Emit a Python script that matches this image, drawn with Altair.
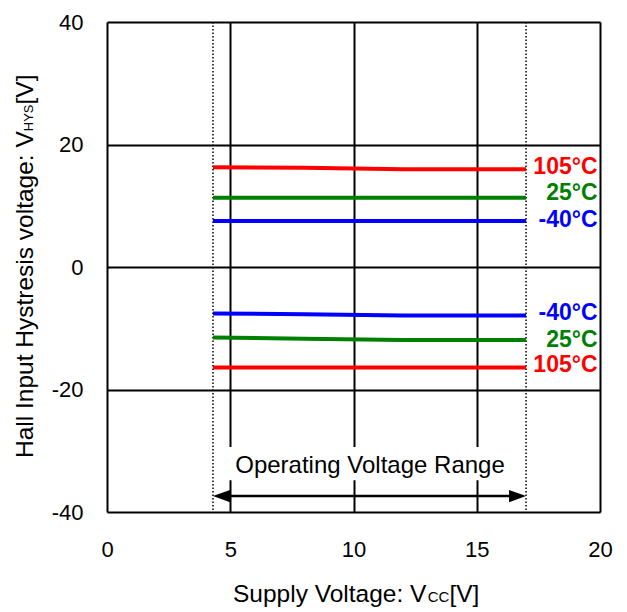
import altair as alt
import pandas as pd

# ---- data ----
vcc = [4.3, 8, 12, 17]
red_up = [16.3, 16.2, 15.95, 15.95]
green_up = [11.3, 11.3, 11.3, 11.3]
blue_up = [7.5, 7.5, 7.5, 7.5]
blue_lo = [-7.6, -7.7, -7.9, -7.9]
green_lo = [-11.5, -11.7, -11.9, -11.9]
red_lo = [-16.4, -16.4, -16.4, -16.4]

series_names = ["105up", "25up", "m40up", "m40lo", "25lo", "105lo"]
series_vals = [red_up, green_up, blue_up, blue_lo, green_lo, red_lo]
series_colors = ["#FF0000", "#008000", "#0000FF", "#0000FF", "#008000", "#FF0000"]

label_text = ["105°C", "25°C", "-40°C", "-40°C", "25°C", "105°C"]
label_y = [16.3, 12.1, 7.7, -7.5, -11.9, -16.0]
label_x = 19.9

range_lo, range_hi = 4.3, 17
arrow_y = -37.4
range_text = "Operating Voltage Range"
range_text_x = 10.67
range_text_y = -33.6
cover_x = [4.6, 16.5]
cover_y = [-29.4, -34.8]

x_ticks = [0, 5, 10, 15, 20]
y_ticks = [-40, -20, 0, 20, 40]

FONT = "Liberation Sans"

rows = []
for n, vals in zip(series_names, series_vals):
    for xv, yv in zip(vcc, vals):
        rows.append({"s": n, "x": xv, "y": yv})
df = pd.DataFrame(rows)

xs = alt.Scale(domain=[0, 20], nice=False, zero=False)
ys = alt.Scale(domain=[-40, 40], nice=False, zero=False)

xax = alt.Axis(values=x_ticks, title=None, grid=True, ticks=False, domain=False,
               labelPadding=27, labelFontSize=22, labelFont=FONT, labelColor="black",
               gridColor="black", gridWidth=2, gridOpacity=1, labelFlush=False,
               labelExpr="toString(datum.value)")
yax = alt.Axis(values=y_ticks, title=None, grid=True, ticks=False, domain=False,
               labelPadding=24, labelFontSize=22, labelFont=FONT, labelColor="black",
               gridColor="black", gridWidth=2, gridOpacity=1,
               labelExpr="toString(datum.value)")

base = alt.Chart(df)

lines = base.mark_line(strokeWidth=4).encode(
    x=alt.X("x:Q", scale=xs, axis=xax),
    y=alt.Y("y:Q", scale=ys, axis=yax),
    color=alt.Color("s:N", scale=alt.Scale(domain=series_names, range=series_colors), legend=None),
    detail="s:N",
)

cover = alt.Chart(pd.DataFrame({"x": [cover_x[0]], "x2": [cover_x[1]],
                                "y": [cover_y[0]], "y2": [cover_y[1]]})).mark_rect(
    color="white", opacity=1).encode(
    x=alt.X("x:Q", scale=xs), x2="x2:Q", y=alt.Y("y:Q", scale=ys), y2="y2:Q")

dotted = alt.Chart(pd.DataFrame({"x": [range_lo, range_hi]})).mark_rule(
    color="black", strokeWidth=1.5, strokeDash=[1.5, 2]).encode(
    x=alt.X("x:Q", scale=xs))

arrow_line = alt.Chart(pd.DataFrame({"x": [range_lo + 0.3], "x2": [range_hi - 0.3], "y": [arrow_y]})).mark_rule(
    color="black", strokeWidth=2.5).encode(
    x=alt.X("x:Q", scale=xs), x2="x2:Q", y=alt.Y("y:Q", scale=ys))

head_l = alt.Chart(pd.DataFrame({"x": [range_lo], "y": [arrow_y]})).mark_point(
    shape="M0,0L1,-0.36L1,0.36Z", size=1156, filled=True, color="black", opacity=1, strokeWidth=0).encode(
    x=alt.X("x:Q", scale=xs), y=alt.Y("y:Q", scale=ys))
head_r = alt.Chart(pd.DataFrame({"x": [range_hi], "y": [arrow_y]})).mark_point(
    shape="M0,0L-1,-0.36L-1,0.36Z", size=1156, filled=True, color="black", opacity=1, strokeWidth=0).encode(
    x=alt.X("x:Q", scale=xs), y=alt.Y("y:Q", scale=ys))

range_lbl = alt.Chart(pd.DataFrame({"t": [range_text], "x": [range_text_x], "y": [range_text_y]})).mark_text(
    font=FONT, fontSize=24, color="black", baseline="alphabetic", align="center").encode(
    x=alt.X("x:Q", scale=xs), y=alt.Y("y:Q", scale=ys), text="t:N")

temp_lbl = alt.Chart(pd.DataFrame({"t": label_text, "y": label_y, "s": series_names,
                                   "x": [label_x] * 6})).mark_text(
    font=FONT, fontSize=23, fontWeight="bold", align="right", baseline="middle").encode(
    x=alt.X("x:Q", scale=xs), y=alt.Y("y:Q", scale=ys), text="t:N",
    color=alt.Color("s:N", scale=alt.Scale(domain=series_names, range=series_colors), legend=None))


def txt(t, x, y, size, angle=0):
    return alt.Chart(pd.DataFrame({"t": [t]})).mark_text(
        font=FONT, fontSize=size, color="black", align="left", baseline="alphabetic", angle=angle).encode(
        text="t:N", x=alt.value(x), y=alt.value(y))


# approximate Arial/Liberation em widths for layout of the sub-scripted titles
MAIN = 24.5
EM_XMAIN = 7.949   # "Supply Voltage: V"
EM_CC = 1.444      # "CC"
EM_YMAIN = 13.338  # "Hall Input Hystresis voltage: V"
EM_HYS = 2.056     # "HYS"

x0 = 126
x1 = x0 + EM_XMAIN * MAIN
x2 = x1 + EM_CC * 15
xt1 = txt("Supply Voltage: V", x0, 580, MAIN)
xt2 = txt("CC", x1, 580, 15)
xt3 = txt("[V]", x2, 580, MAIN)

y0 = 436
y1 = y0 - EM_YMAIN * MAIN
y2 = y1 - EM_HYS * 13
yt1 = txt("Hall Input Hystresis voltage: V", -74, y0, MAIN, 270)
yt2 = txt("HYS", -74, y1, 13, 270)
yt3 = txt("[V]", -74, y2, MAIN, 270)

chart = alt.layer(
    cover, dotted, arrow_line, head_l, head_r, range_lbl, lines, temp_lbl,
    xt1, xt2, xt3, yt1, yt2, yt3,
).properties(
    width=493, height=490,
    autosize=alt.AutoSizeParams(type="none"),
    padding={"left": 99, "top": 14, "right": 19, "bottom": 100},
).configure_view(
    stroke="black", strokeWidth=2.5, fill="white"
).configure(background="white")

chart.save("out.html", embed_options={"renderer": "svg", "actions": False})
